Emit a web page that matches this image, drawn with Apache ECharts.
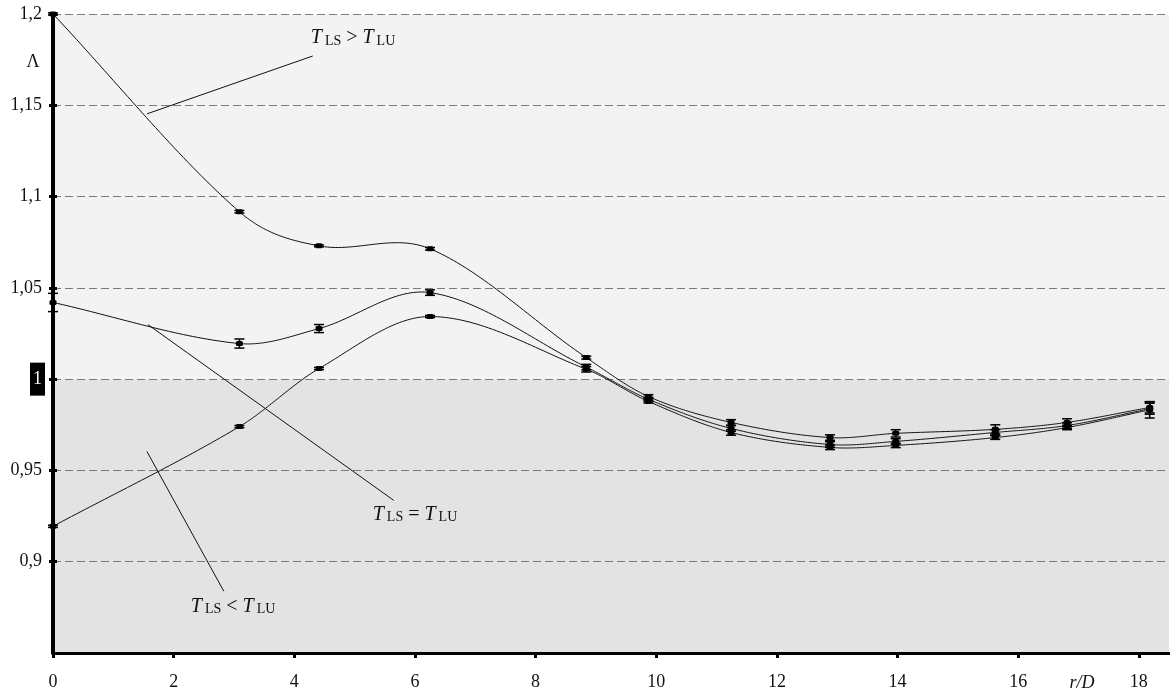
<!DOCTYPE html>
<html>
<head>
<meta charset="utf-8">
<script src="https://cdn.jsdelivr.net/npm/echarts@6/dist/echarts.min.js"></script>
<style>
  html, body { margin: 0; padding: 0; background: #fff; }
  #chart { width: 1170px; height: 691px; }
</style>
</head>
<body>
<div id="chart"></div>
<script>
// Radial distance r/D of the measurement stations
const rD = [0, 3.09, 4.41, 6.25, 8.84, 9.87, 11.24, 12.88, 13.97, 15.62, 16.81, 18.18];

// Λ for T_LS > T_LU and its error half-width
const lambdaHot = [1.2, 1.0917, 1.073, 1.0714, 1.0118, 0.9905, 0.9763, 0.968, 0.9703, 0.9725, 0.9763, 0.9845];
const errHot    = [0.0006, 0.0007, 0.0005, 0.0007, 0.0008, 0.001, 0.0015, 0.0015, 0.002, 0.0025, 0.002, 0.003];

// Λ for T_LS = T_LU
const lambdaEq = [1.042, 1.0195, 1.0277, 1.0474, 1.0066, 0.989, 0.973, 0.9642, 0.9659, 0.9708, 0.9746, 0.9838];
const errEq    = [0.005, 0.0025, 0.0022, 0.0015, 0.0015, 0.001, 0.0015, 0.0015, 0.0015, 0.0015, 0.0015, 0.003];

// Λ for T_LS < T_LU
const lambdaCold = [0.9194, 0.974, 1.0058, 1.0343, 1.0054, 0.9878, 0.9708, 0.9626, 0.9637, 0.968, 0.9735, 0.9832];
const errCold    = [0.0006, 0.0006, 0.0006, 0.0006, 0.0015, 0.0008, 0.0015, 0.0012, 0.0012, 0.001, 0.0012, 0.0045];

// Axis ticks
const xTicks = [0, 2, 4, 6, 8, 10, 12, 14, 16, 18];
const yTicks = [0.9, 0.95, 1, 1.05, 1.1, 1.15, 1.2];

// Leader lines from each curve to its caption, in data units
const leaderHot  = [[1.557, 1.1453], [4.306, 1.177]];
const leaderEq   = [[1.573, 1.0299], [5.648, 0.9336]];
const leaderCold = [[1.557, 0.9604], [2.832, 0.8838]];

// Caption operators
const captionOps = ['>', '=', '<'];

const SERIF = '"Liberation Serif", "Times New Roman", serif';

function pairs(xs, ys) { return xs.map((x, i) => [x, ys[i]]); }
function triples(xs, ys, es) { return xs.map((x, i) => [x, ys[i], es[i]]); }

// Cubic Hermite curve through the knots, tangents from central differences
function tangents(xs, ys) {
  const n = xs.length;
  return xs.map((x, i) => {
    if (i === 0) return (ys[1] - ys[0]) / (xs[1] - xs[0]);
    if (i === n - 1) return (ys[n - 1] - ys[n - 2]) / (xs[n - 1] - xs[n - 2]);
    return (ys[i + 1] - ys[i - 1]) / (xs[i + 1] - xs[i - 1]);
  });
}

function curvePoints(xs, ys, api, steps) {
  const m = tangents(xs, ys);
  const pts = [];
  for (let i = 0; i < xs.length - 1; i++) {
    const h = xs[i + 1] - xs[i];
    for (let s = 0; s <= steps; s++) {
      if (i > 0 && s === 0) continue;
      const t = s / steps, t2 = t * t, t3 = t2 * t;
      const h00 = 2 * t3 - 3 * t2 + 1, h10 = t3 - 2 * t2 + t;
      const h01 = -2 * t3 + 3 * t2, h11 = t3 - t2;
      const y = h00 * ys[i] + h10 * h * m[i] + h01 * ys[i + 1] + h11 * h * m[i + 1];
      pts.push(api.coord([xs[i] + t * h, y]));
    }
  }
  return pts;
}

function curve(ys) {
  return {
    type: 'custom',
    data: pairs(rD, ys),
    clip: false,
    silent: true,
    z: 3,
    renderItem(params, api) {
      if (params.dataIndex !== 0) return null;
      return {
        type: 'polyline',
        shape: { points: curvePoints(rD, ys, api, 40) },
        style: { stroke: '#111', lineWidth: 1, fill: null }
      };
    }
  };
}

function errorMarks(ys, es) {
  return {
    type: 'custom',
    data: triples(rD, ys, es),
    clip: false,
    silent: true,
    z: 4,
    renderItem(params, api) {
      const x = api.value(0), y = api.value(1), e = api.value(2);
      const top = api.coord([x, y + e]);
      const bot = api.coord([x, y - e]);
      const c = api.coord([x, y]);
      const cap = 5;
      const st = { stroke: '#000', lineWidth: 1.5 };
      return {
        type: 'group',
        children: [
          { type: 'line', shape: { x1: top[0], y1: top[1], x2: bot[0], y2: bot[1] }, style: st },
          { type: 'line', shape: { x1: top[0] - cap, y1: top[1], x2: top[0] + cap, y2: top[1] }, style: st },
          { type: 'line', shape: { x1: bot[0] - cap, y1: bot[1], x2: bot[0] + cap, y2: bot[1] }, style: st },
          { type: 'rect', shape: { x: c[0] - 3.5, y: c[1] - 2.5, width: 7, height: 5, r: 1.5 }, style: { fill: '#000' } }
        ]
      };
    }
  };
}

function leader(pts) {
  return {
    type: 'line',
    data: pts,
    symbol: 'none',
    lineStyle: { color: '#111', width: 1 },
    silent: true,
    z: 3
  };
}

function fmtY(v) {
  if (Math.abs(v - 0.85) < 1e-9) return '';
  const s = String(+v.toFixed(2)).replace('.', ',');
  return Math.abs(v - 1) < 1e-9 ? '{hl|' + s + '}' : '{n|' + s + '}';
}

const chart = echarts.init(document.getElementById('chart'), null, { renderer: 'canvas' });

chart.setOption({
  backgroundColor: '#fff',
  animation: false,
  grid: { left: 53, right: 1, top: 14, bottom: 38 },
  xAxis: {
    type: 'value',
    z: 2,
    min: 0,
    max: 18.5,
    interval: 2,
    axisLine: { show: true, onZero: false, lineStyle: { color: '#000', width: 3 } },
    axisTick: { show: true, customValues: xTicks, length: 5, lineStyle: { color: '#000', width: 3 } },
    axisLabel: {
      customValues: xTicks,
      margin: 20,
      color: '#111',
      fontFamily: SERIF,
      fontSize: 18
    },
    splitLine: { show: false }
  },
  yAxis: [{
    type: 'value',
    z: 2,
    min: 0.85,
    max: 1.2,
    interval: 0.05,
    axisLine: { show: true, onZero: false, lineStyle: { color: '#000', width: 4 } },
    axisTick: { show: true, customValues: yTicks, length: 4, lineStyle: { color: '#000', width: 3 } },
    axisLabel: {
      customValues: yTicks,
      margin: 8,
      formatter: fmtY,
      rich: {
        n: { color: '#111', fontFamily: SERIF, fontSize: 18, padding: [0, 3, 0, 0] },
        hl: { color: '#fff', backgroundColor: '#000', fontFamily: SERIF, fontSize: 18, padding: [8, 3, 7, 3] }
      }
    },
    splitLine: {
      show: true,
      lineStyle: { color: '#7a7a7a', width: 1, type: [8, 4] }
    }
  }, {
    type: 'value',
    z: 2,
    position: 'left',
    offset: 0,
    min: 0.85,
    max: 1.2,
    interval: 0.05,
    axisLine: { show: false },
    axisTick: { show: true, inside: true, customValues: yTicks, length: 4, lineStyle: { color: '#000', width: 3 } },
    axisLabel: { show: false },
    splitLine: { show: false }
  }],
  series: [
    {
      // shaded bands above and below Λ = 1
      type: 'line',
      data: [],
      z: 1,
      silent: true,
      markArea: {
        silent: true,
        data: [
          [{ yAxis: 1.0, itemStyle: { color: '#f3f3f3' } }, { yAxis: 1.2 }],
          [{ yAxis: 0.85, itemStyle: { color: '#e3e3e3' } }, { yAxis: 1.0 }]
        ]
      }
    },
    curve(lambdaHot),
    curve(lambdaEq),
    curve(lambdaCold),
    leader(leaderHot),
    leader(leaderEq),
    leader(leaderCold),
    errorMarks(lambdaHot, errHot),
    errorMarks(lambdaEq, errEq),
    errorMarks(lambdaCold, errCold)
  ]
});

// Captions T_LS ? T_LU placed next to the free end of each leader line
function caption(op, end, dx, dy) {
  const p = chart.convertToPixel({ gridIndex: 0 }, end);
  return {
    type: 'text',
    x: p[0] + dx,
    y: p[1] + dy,
    z: 10,
    style: {
      text: '{t|T}{s|LS}{o| ' + op + ' }{t|T}{s|LU}',
      verticalAlign: 'middle',
      align: 'left',
      rich: {
        t: { fontFamily: SERIF, fontStyle: 'italic', fontSize: 20, fill: '#111', verticalAlign: 'bottom' },
        s: { fontFamily: SERIF, fontSize: 14, fill: '#111', verticalAlign: 'bottom', padding: [0, 0, 0, 3] },
        o: { fontFamily: SERIF, fontSize: 20, fill: '#111', verticalAlign: 'bottom' }
      }
    }
  };
}

chart.setOption({
  graphic: [
    caption(captionOps[0], leaderHot[1], -2, -18),
    caption(captionOps[1], leaderEq[1], -21, 14),
    caption(captionOps[2], leaderCold[1], -33, 15),
    {
      type: 'text', x: 33, y: 62, z: 10,
      style: { text: 'Λ', fontFamily: SERIF, fontSize: 18, fill: '#111', align: 'center', verticalAlign: 'middle' }
    },
    {
      type: 'text', x: 1082, y: 683, z: 10,
      style: { text: 'r/D', fontFamily: SERIF, fontStyle: 'italic', fontSize: 18, fill: '#111', align: 'center', verticalAlign: 'middle' }
    }
  ]
});
</script>
</body>
</html>
